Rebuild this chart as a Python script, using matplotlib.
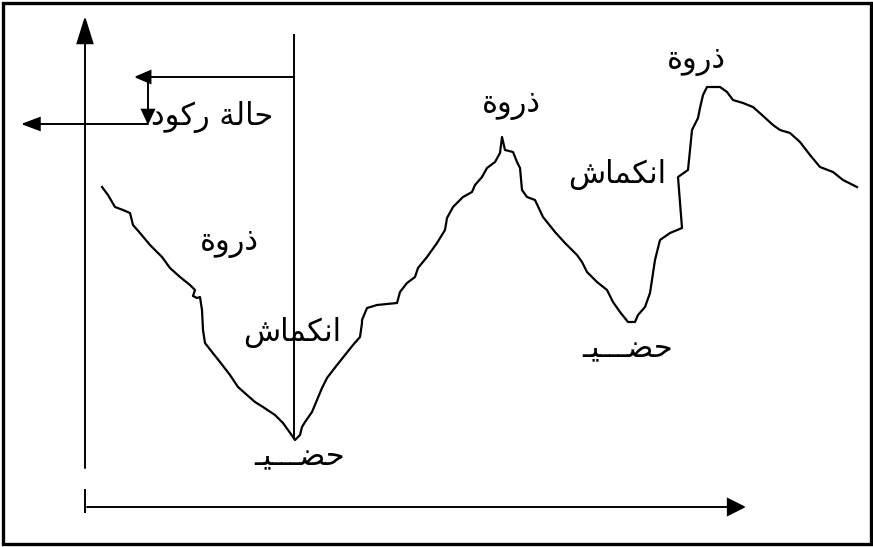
import matplotlib
matplotlib.use("Agg")
import matplotlib.pyplot as plt
from matplotlib.patches import FancyArrowPatch, Rectangle

# ---------------- data (pixel-space of the original drawing) ----------------
curve_x = [102, 108, 115, 123, 130, 133, 140, 150, 162, 170, 180, 190, 195, 193, 197, 200,
           202, 203, 205, 212, 220, 230, 238, 247, 255, 263, 275, 283, 288, 293,
           295, 300, 302, 305, 312, 317, 322, 327, 337, 345, 353, 360, 362, 362, 367, 377,
           397, 400, 407, 415, 418, 427, 437, 445, 447, 453, 463, 472, 475, 482, 487, 495,
           500, 502, 505, 513, 517, 520, 522, 527, 535, 543, 555, 565, 577, 582, 587, 597,
           607, 613, 620, 628, 635, 638, 645, 650, 655, 660, 670, 682, 678, 688, 692, 698,
           700, 703, 707, 720, 727, 733, 743, 753, 762, 773, 780, 790, 800, 810, 820, 833,
           843, 857]
curve_y = [187, 195, 207, 210, 213, 225, 233, 245, 257, 268, 277, 285, 290, 296, 298, 297,
           310, 330, 343, 352, 362, 375, 387, 395, 402, 407, 415, 423, 430, 437,
           440, 435, 427, 422, 412, 400, 388, 378, 365, 355, 345, 337, 323, 320, 308, 305,
           303, 292, 283, 277, 268, 257, 243, 230, 218, 207, 197, 192, 185, 177, 168, 162,
           153, 137, 150, 152, 162, 168, 190, 197, 200, 217, 232, 243, 255, 262, 272, 282,
           290, 302, 312, 322, 322, 315, 307, 293, 260, 240, 233, 228, 177, 170, 130, 118,
           108, 95, 87, 87, 92, 100, 103, 107, 115, 125, 130, 133, 142, 155, 167, 172,
           180, 187]

label_texts = ["حالة ركود", "ذروة", "انكماش", "حضـــيـ", "ذروة", "انكماش", "حضـــيـ", "ذروة"]
label_x = [212, 229, 292, 300, 511, 617, 628, 696]
label_y = [117, 243, 333, 457, 105, 175, 349, 61]

# ---------------- minimal Arabic shaping (logical -> visual presentation forms) ----------------
FORMS = {
    "ا": ("\uFE8D", "\uFE8E", None, None),
    "ح": ("\uFEA1", "\uFEA2", "\uFEA3", "\uFEA4"),
    "ل": ("\uFEDD", "\uFEDE", "\uFEDF", "\uFEE0"),
    "ة": ("\uFE93", "\uFE94", None, None),
    "ر": ("\uFEAD", "\uFEAE", None, None),
    "ك": ("\uFED9", "\uFEDA", "\uFEDB", "\uFEDC"),
    "و": ("\uFEED", "\uFEEE", None, None),
    "د": ("\uFEA9", "\uFEAA", None, None),
    "ذ": ("\uFEAB", "\uFEAC", None, None),
    "ن": ("\uFEE5", "\uFEE6", "\uFEE7", "\uFEE8"),
    "م": ("\uFEE1", "\uFEE2", "\uFEE3", "\uFEE4"),
    "ش": ("\uFEB5", "\uFEB6", "\uFEB7", "\uFEB8"),
    "ض": ("\uFEBD", "\uFEBE", "\uFEBF", "\uFEC0"),
    "ي": ("\uFEF1", "\uFEF2", "\uFEF3", "\uFEF4"),
    "ـ": ("ـ", "ـ", "ـ", "ـ"),
}
DUAL = {c for c, f in FORMS.items() if f[2] is not None}


def shape(s):
    out = []
    for i, c in enumerate(s):
        if c not in FORMS:
            out.append(c)
            continue
        prev = s[i - 1] if i > 0 else None
        nxt = s[i + 1] if i + 1 < len(s) else None
        jp = prev in DUAL
        jn = c in DUAL and nxt in FORMS
        f = FORMS[c]
        if jp and jn:
            out.append(f[3])
        elif jp:
            out.append(f[1])
        elif jn:
            out.append(f[2])
        else:
            out.append(f[0])
    return "".join(reversed(out))


# ---------------- figure ----------------
fig = plt.figure(figsize=(8.73, 5.47), dpi=100)
ax = fig.add_axes([0, 0, 1, 1])
ax.set_xlim(0, 873)
ax.set_ylim(547, 0)
ax.axis("off")

# frame
ax.add_patch(Rectangle((2.5, 2.5), 868, 541, fill=False, lw=2.4, ec="black"))

LW = 1.4


def arrow(x0, y0, x1, y1, hl, hw):
    style = f"-|>,head_length={hl * 0.72:.2f},head_width={hw * 0.72:.2f}"
    ax.add_patch(FancyArrowPatch((x0, y0), (x1, y1), arrowstyle=style, mutation_scale=1,
                                 shrinkA=0, shrinkB=0, lw=LW, color="black",
                                 joinstyle="miter"))


# axes
arrow(85, 468, 85, 16, 24, 7.5)
ax.plot([85, 85], [490, 512], color="black", lw=LW)
arrow(87, 507, 746, 507, 16, 8)

# vertical marker line and recession arrows
ax.plot([293.5, 293.5], [35, 437], color="black", lw=LW)
arrow(293.5, 77, 134, 77, 14, 6)
arrow(148, 77, 148, 125, 13, 6)
arrow(148, 124, 21, 124, 16, 6)

# wiggly cycle curve
ax.plot(curve_x, curve_y, color="black", lw=1.6, solid_joinstyle="round")

for t, x, y in zip(label_texts, label_x, label_y):
    ax.text(x, y, shape(t), ha="center", va="center", fontsize=22,
            family=["DejaVu Sans"], color="black")

fig.savefig("out.png", dpi=100)
